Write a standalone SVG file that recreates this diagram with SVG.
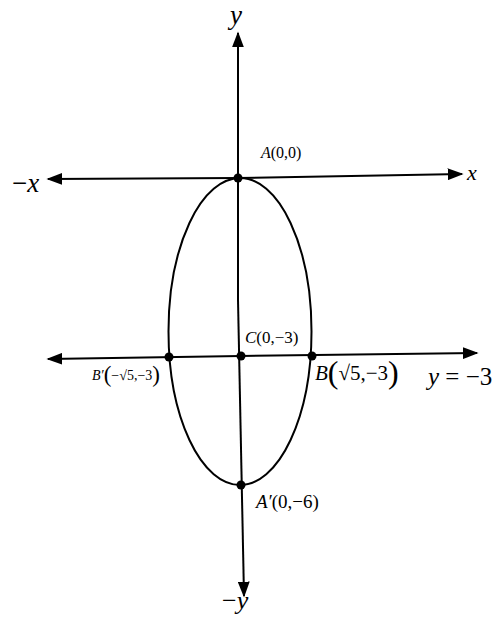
<svg xmlns="http://www.w3.org/2000/svg" width="495" height="617" viewBox="0 0 495 617">
<style>
.ax{stroke:#000;stroke-width:2;fill:none}
.t{font-family:"Liberation Serif","Times New Roman",serif;fill:#000}
.i{font-style:italic}
.dot{fill:#000}
</style>
<defs>
<marker id="ah2" viewBox="0 0 10 10" refX="9" refY="5" markerWidth="16" markerHeight="12" markerUnits="userSpaceOnUse" orient="auto" preserveAspectRatio="none">
<path d="M0,0 L10,5 L0,10 z" fill="#000"/>
</marker>
</defs>
<rect width="495" height="617" fill="#fff"/>
<g id="connectors">
<line class="ax" x1="238" y1="300" x2="238" y2="33" marker-end="url(#ah2)"/>
<line class="ax" x1="238" y1="300" x2="244" y2="596" marker-end="url(#ah2)"/>
<line class="ax" x1="238" y1="178" x2="48" y2="179" marker-end="url(#ah2)"/>
<line class="ax" x1="238" y1="178" x2="462" y2="174" marker-end="url(#ah2)"/>
<line class="ax" x1="241" y1="356" x2="48" y2="359" marker-end="url(#ah2)"/>
<line class="ax" x1="241" y1="356" x2="477" y2="353" marker-end="url(#ah2)"/>
</g>
<g id="ellipse">
<ellipse class="ax" cx="240" cy="331.5" rx="71.5" ry="153.5"/>
</g>
<g id="A"><circle class="dot" cx="238" cy="178" r="4.5"/>
<text class="t" x="261" y="158" font-size="16"><tspan class="i">A</tspan>(0,0)</text></g>
<g id="C"><circle class="dot" cx="241" cy="356" r="4.5"/>
<text class="t" x="245" y="343" font-size="17"><tspan class="i">C</tspan>(0,−3)</text></g>
<g id="Bp"><circle class="dot" cx="169" cy="357" r="4.5"/>
<text class="t" x="92" y="380" font-size="14"><tspan class="i">B′</tspan><tspan font-size="23" dy="2">(</tspan><tspan dy="-2">−√5,−3</tspan><tspan font-size="23" dy="2">)</tspan></text></g>
<g id="B"><circle class="dot" cx="312" cy="356" r="4.5"/>
<text class="t" x="315" y="380" font-size="21"><tspan class="i">B</tspan><tspan font-size="32" dy="3">(</tspan><tspan dy="-3">√5,−3</tspan><tspan font-size="32" dy="3">)</tspan></text></g>
<g id="Ap"><circle class="dot" cx="241" cy="485" r="4.5"/>
<text class="t" x="256" y="508" font-size="19"><tspan class="i">A′</tspan>(0,−6)</text></g>
<g id="labels">
<text class="t" x="12" y="192" font-size="27">−<tspan class="i">x</tspan></text>
<text class="t i" x="467" y="180" font-size="22">x</text>
<text class="t i" x="230" y="24" font-size="27">y</text>
<text class="t" x="222" y="609" font-size="26">−<tspan class="i">y</tspan></text>
<text class="t" x="428" y="385" font-size="25"><tspan class="i">y</tspan> = −3</text>
</g>
</svg>
